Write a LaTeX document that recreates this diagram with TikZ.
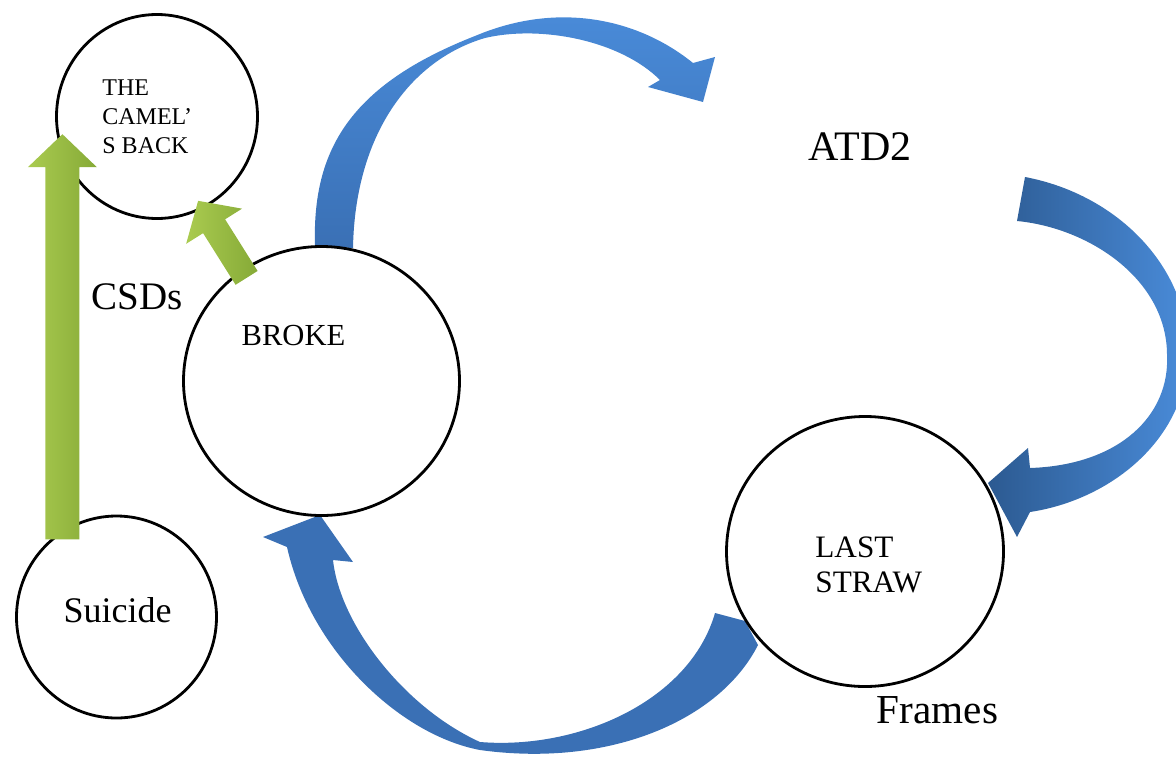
\documentclass[tikz,border=0pt]{standalone}
\usepackage{fontspec}
\setmainfont{Liberation Serif}
\usetikzlibrary{shapes.geometric,calc,positioning}

\definecolor{blueD}{HTML}{2C5A91}
\definecolor{blueM}{HTML}{3A70B5}
\definecolor{blueL}{HTML}{4A8CDA}
\definecolor{grnL}{HTML}{C8E074}
\definecolor{grnM}{HTML}{AACB50}
\definecolor{grnD}{HTML}{86AA37}

\newcommand{\fsz}[2]{\fontsize{#1}{#2}\selectfont}
% fat arrow: from, to, half shaft, half head, head length
\newcommand{\blockarrow}[5]{%
    \coordinate (hb) at ($(#2)!#5!(#1)$);
    \shade[fatarrow] ($(#1)!#3!90:(#2)$) -- ($(hb)!#3!90:(#2)$) -- ($(hb)!#4!90:(#2)$) -- (#2)
        -- ($(hb)!#4!-90:(#2)$) -- ($(hb)!#3!-90:(#2)$) -- ($(#1)!#3!-90:(#2)$) -- cycle;
}

\begin{document}
\begin{tikzpicture}[
                        x=0.5pt, y=-0.5pt,
                        ring/.style={ellipse, draw, line width=1.4pt, inner sep=0pt},
                        caption/.style={inner sep=0pt},
                        fatarrow/.style={left color=grnM, middle color=grnL, right color=grnD},
                        >=latex
                    ]
                    \useasboundingbox (0,0) rectangle (1176,760);
                    \clip (0,0) rectangle (1176,760);

                    % Arcs
                    \shade[top color=blueL, bottom color=blueM]
                        (315,246) .. controls (312,150) and (350,85) .. (475,36)
                        .. controls (560,0) and (640,20) .. (693,63)
                        -- (715,57) -- (703,102) -- (648,87) -- (660,80)
                        .. controls (620,40) and (540,25) .. (485,38)
                        .. controls (410,60) and (355,135) .. (353,248) -- cycle;
                    \shade[left color=blueD, right color=blueL]
                        (1025,177) .. controls (1120,195) and (1190,270) .. (1188,355)
                        .. controls (1186,440) and (1110,500) .. (1030,512)
                        -- (1017,537) -- (988,483) -- (1028,448) -- (1030,468)
                        .. controls (1120,465) and (1170,415) .. (1167,355)
                        .. controls (1167,280) and (1090,228) .. (1017,221) -- cycle;
                    \fill[blueM]
                        (715,613) -- (745,621) -- (758,645)
                        .. controls (720,720) and (610,768) .. (480,750)
                        .. controls (400,735) and (310,650) .. (287,547)
                        -- (263,537) -- (320,515) -- (353,562) -- (333,560)
                        .. controls (340,625) and (405,708) .. (480,742)
                        .. controls (580,750) and (690,700) .. (715,613) -- cycle;

                    % Blocks
                    \node [ring, minimum width=100.5pt, minimum height=102pt] (camel) at (157,116.5) {};
                    \node [ring, minimum width=138pt, minimum height=134.5pt] (broke) at (321.5,381) {};
                    \node [ring, minimum width=100pt, minimum height=101pt] (suicide) at (116.5,617) {};
                    \node [ring, minimum width=138.5pt, minimum height=135pt] (straw) at (865,551.5) {};

                    % Connections
                    \coordinate (vTail) at ([yshift=-4.5pt]suicide.122);
                    \coordinate (vTip) at (vTail |- camel.190);
                    \coordinate (dTail) at ($(broke.center)!0.93!(broke.126)$);
                    \coordinate (dTip) at ($(camel.center)!0.91!(camel.-64)$);
                    \blockarrow{vTail}{vTip}{8.5pt}{17.25pt}{16.5pt}
                    \blockarrow{dTail}{dTip}{6.5pt}{16.5pt}{15pt}

                    % Texts
                    \node [caption, font=\fsz{12}{14.5}, align=left, anchor=west] (camelText) at (102,116.5) {THE\\CAMEL’\\S BACK};
                    \node [caption, font=\fsz{15.3}{17}, anchor=base] (brokeText) at (293.5,345) {BROKE};
                    \node [caption, font=\fsz{18}{21}, anchor=base] (suicideText) at (117.5,622) {Suicide};
                    \node [caption, font=\fsz{15.6}{17.5}, align=left, anchor=west] (strawText) at (815,564.5) {LAST\\STRAW};
                    \node [caption, font=\fsz{21}{24}, anchor=base] (atd) at (860,160) {ATD2};
                    \node [caption, font=\fsz{19.5}{23}, anchor=base] (csds) at (137,309) {CSDs};
                    \node [caption, font=\fsz{20.6}{24}, anchor=base] (frames) at (937.5,723) {Frames};
                \end{tikzpicture}
\end{document}
